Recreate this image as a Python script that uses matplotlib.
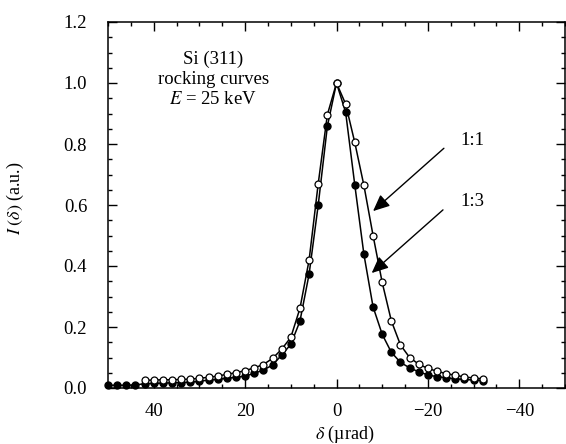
import matplotlib
matplotlib.use('Agg')
import matplotlib.pyplot as plt
from matplotlib.ticker import MultipleLocator

plt.rcParams['font.family'] = ['Liberation Serif', 'DejaVu Serif']
plt.rcParams['mathtext.fontset'] = 'stix'

# 1:1 curve (open circles)
delta_11 = [42, 40, 38, 36, 34, 32, 30, 28, 26, 24, 22, 20, 18, 16, 14, 12, 10, 8, 6, 4, 2, 0,
            -2, -4, -6, -8, -10, -12, -14, -16, -18, -20, -22, -24, -26, -28, -30, -32]
inten_11 = [0.025, 0.026, 0.027, 0.027, 0.028, 0.029, 0.032, 0.035, 0.039, 0.045, 0.050, 0.057,
            0.066, 0.077, 0.097, 0.127, 0.166, 0.261, 0.419, 0.670, 0.896, 1.0,
            0.931, 0.805, 0.664, 0.500, 0.346, 0.220, 0.141, 0.100, 0.078, 0.064, 0.055,
            0.047, 0.042, 0.036, 0.033, 0.030]

# 1:3 curve (filled circles)
delta_13 = [50, 48, 46, 44, 42, 40, 38, 36, 34, 32, 30, 28, 26, 24, 22, 20, 18, 16, 14, 12, 10,
            8, 6, 4, 2, 0, -2, -4, -6, -8, -10, -12, -14, -16, -18, -20, -22, -24, -26, -28,
            -30, -32]
inten_13 = [0.009, 0.009, 0.009, 0.010, 0.014, 0.015, 0.016, 0.017, 0.018, 0.019, 0.022, 0.026,
            0.028, 0.032, 0.035, 0.039, 0.048, 0.059, 0.075, 0.108, 0.143, 0.219, 0.373, 0.600,
            0.858, 1.0, 0.904, 0.666, 0.438, 0.266, 0.176, 0.117, 0.084, 0.066, 0.053, 0.043,
            0.037, 0.034, 0.030, 0.028, 0.026, 0.024]

fig = plt.figure(figsize=(5.66, 4.44), dpi=100)
ax = fig.add_axes([108 / 566, 1 - 388 / 444, 457 / 566, 366 / 444])

ax.plot(delta_13, inten_13, '-o', color='black', lw=1.1, ms=5, mfc='black', mec='black',
        clip_on=False, zorder=3)
ax.plot(delta_11, inten_11, '-o', color='black', lw=1.1, ms=5, mfc='white', mec='black',
        mew=0.9, clip_on=False, zorder=4)

ax.set_xlim(50, -50)
ax.set_ylim(0, 1.2)
ax.xaxis.set_major_locator(MultipleLocator(20))
ax.xaxis.set_minor_locator(MultipleLocator(5))
ax.yaxis.set_major_locator(MultipleLocator(0.2))
ax.yaxis.set_minor_locator(MultipleLocator(0.05))
ax.yaxis.set_major_formatter(plt.FuncFormatter(lambda v, p: '%.1f' % v))
ax.xaxis.set_major_formatter(plt.FuncFormatter(lambda v, p: ('\u2212%d' % -v) if v < 0 else '%d' % v))
ax.tick_params(which='both', direction='in', top=True, right=True, labelsize=13.5, width=1)
ax.tick_params(which='major', length=6.5)
ax.tick_params(which='minor', length=3)
ax.tick_params(axis='y', pad=15)
ax.tick_params(axis='x', pad=11)
for s in ax.spines.values():
    s.set_linewidth(1.1)

ax.set_xlabel(r'$\delta$ (µrad)', fontsize=13)
ax.xaxis.set_label_coords((345 - 108) / 457, (388 - 434) / 366)
ax.xaxis.label.set_va('center')
ax.set_ylabel(r'$I\;(\delta)$ (a.u.)', fontsize=13)
ax.yaxis.set_label_coords((15 - 108) / 457, (388 - 198) / 366)
ax.yaxis.label.set_va('center')

ax.text(27, 1.063, 'Si (311)', ha='center', va='baseline', fontsize=13.5)
ax.text(27, 0.997, 'rocking curves', ha='center', va='baseline', fontsize=13.5)
ax.text(27, 0.932, r'$E$ = 25 keV', ha='center', va='baseline', fontsize=13.5)

ax.text(-29.8, 0.81, '1:1', ha='center', va='center', fontsize=13.5)
ax.text(-29.8, 0.61, '1:3', ha='center', va='center', fontsize=13.5)

arrow = dict(arrowstyle='-|>,head_length=1.0,head_width=0.45', color='black', lw=1.0,
             shrinkA=0, shrinkB=0)
ax.annotate('', xy=(-8, 0.58), xytext=(-23.5, 0.786), arrowprops=arrow)
ax.annotate('', xy=(-7.7, 0.377), xytext=(-23.3, 0.584), arrowprops=arrow)

fig.savefig('out.png', dpi=100)
